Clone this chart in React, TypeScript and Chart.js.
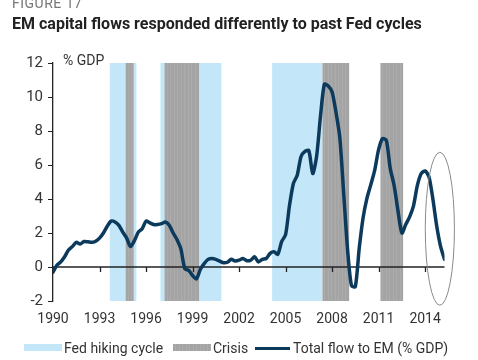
import React, { useEffect, useRef } from "react";
import { Chart, registerables } from "chart.js";

Chart.register(...registerables);

// Total flow to EM (% GDP), quarterly from 1990 Q1
const flowValues = [
  -0.3, 0.1, 0.3, 0.6,
  1.0, 1.2, 1.45, 1.35,
  1.5, 1.48, 1.45, 1.52,
  1.7, 2.0, 2.4, 2.7,
  2.65, 2.45, 2.05, 1.7,
  1.2, 1.55, 2.05, 2.25,
  2.7, 2.6, 2.5, 2.5,
  2.55, 2.65, 2.45, 2.0,
  1.6, 1.05, -0.1, -0.2,
  -0.5, -0.7, -0.15, 0.2,
  0.45, 0.5, 0.45, 0.35,
  0.25, 0.28, 0.45, 0.35,
  0.4, 0.5, 0.37, 0.4,
  0.6, 0.3, 0.45, 0.5,
  0.8, 0.9, 0.75, 1.5,
  1.9, 3.6, 4.9, 5.4,
  6.5, 6.8, 6.85, 5.5,
  6.5, 8.85, 10.75, 10.65,
  10.3, 9.1, 7.6, 4.3,
  1.0, -1.1, -1.15, 1.1,
  2.9, 4.05, 4.85, 5.7,
  6.9, 7.55, 7.45, 5.8,
  4.8, 3.3, 2.0, 2.5,
  2.95, 3.6, 4.8, 5.5,
  5.65, 5.3, 4.0, 2.4,
  1.2, 0.45,
];
const startYear = 1990;
const quarterDates = flowValues.map((_, i) => startYear + i * 0.25);

const xTickYears = [1990, 1993, 1996, 1999, 2002, 2005, 2008, 2011, 2014];
const yTickValues = [-2, 0, 2, 4, 6, 8, 10, 12];

// shaded periods (decimal years)
const fedHikingCycles: [number, number][] = [
  [1993.66, 1995.38],
  [1996.93, 2000.86],
  [2004.13, 2007.38],
];
const crisisPeriods: [number, number][] = [
  [1994.69, 1995.2],
  [1997.2, 1999.42],
  [2007.38, 2009.1],
  [2011.12, 2012.58],
];

// highlight ellipse (centre year / value and half extents in data units)
const highlight = { year: 2014.95, value: 2.25, halfYears: 0.94, halfValue: 4.5 };

const BLUE = "#c3e7f8";
const GRAY = "#a4a4a4";
const GRAY_STRIPE = "#acacac";
const LINE = "#0c3a5c";
const FONT = "Roboto";

const overlayPlugin = {
  id: "overlay",
  beforeDatasetsDraw(chart: any) {
    const { ctx, chartArea, scales } = chart;
    const x = scales.x;
    const y = scales.y;
    ctx.save();
    const top = chartArea.top;
    const h = chartArea.bottom - chartArea.top;
    for (const [a, b] of fedHikingCycles) {
      const x0 = x.getPixelForValue(a);
      const x1 = x.getPixelForValue(b);
      ctx.fillStyle = BLUE;
      ctx.fillRect(x0, top, x1 - x0, h);
    }
    for (const [a, b] of crisisPeriods) {
      const x0 = x.getPixelForValue(a);
      const x1 = x.getPixelForValue(b);
      ctx.fillStyle = GRAY;
      ctx.fillRect(x0, top, x1 - x0, h);
      ctx.strokeStyle = GRAY_STRIPE;
      ctx.lineWidth = 1;
      for (let px = x0 + 2; px < x1 - 1; px += 3.5) {
        ctx.beginPath();
        ctx.moveTo(Math.round(px) + 0.5, top);
        ctx.lineTo(Math.round(px) + 0.5, top + h);
        ctx.stroke();
      }
    }
    // zero line with downward ticks
    const y0 = y.getPixelForValue(0);
    ctx.strokeStyle = "#222";
    ctx.lineWidth = 1.3;
    ctx.beginPath();
    ctx.moveTo(chartArea.left, y0);
    ctx.lineTo(chartArea.right, y0);
    ctx.stroke();
    for (const t of xTickYears) {
      const px = Math.round(x.getPixelForValue(t)) + 0.5;
      ctx.beginPath();
      ctx.moveTo(px, y0);
      ctx.lineTo(px, y0 + 5);
      ctx.stroke();
    }
    ctx.restore();
  },
  afterDraw(chart: any) {
    const { ctx, scales } = chart;
    const x = scales.x;
    const y = scales.y;
    const cx = x.getPixelForValue(highlight.year);
    const cy = y.getPixelForValue(highlight.value);
    const rx = x.getPixelForValue(highlight.year + highlight.halfYears) - cx;
    const ry = cy - y.getPixelForValue(highlight.value + highlight.halfValue);
    ctx.save();
    ctx.strokeStyle = "#8a8a8a";
    ctx.lineWidth = 1;
    ctx.beginPath();
    ctx.ellipse(cx, cy, rx, ry, 0, 0, Math.PI * 2);
    ctx.stroke();
    ctx.restore();
  },
};

export default function App() {
  const canvasRef = useRef<HTMLCanvasElement | null>(null);

  useEffect(() => {
    if (!canvasRef.current) return;
    const chart = new Chart(canvasRef.current, {
      type: "line",
      data: {
        datasets: [
          {
            label: "Total flow to EM (% GDP)",
            data: quarterDates.map((d, i) => ({ x: d, y: flowValues[i] })),
            borderColor: LINE,
            borderWidth: 3.5,
            pointRadius: 0,
            tension: 0.25,
            borderCapStyle: "round",
            borderJoinStyle: "round",
            fill: false,
          },
        ],
      },
      options: {
        animation: false,
        responsive: false,
        devicePixelRatio: 1,
        layout: { padding: { top: 63, right: 33.5, bottom: 0, left: 0 } },
        plugins: {
          legend: { display: false },
          tooltip: { enabled: false },
          title: { display: false },
        },
        scales: {
          x: {
            type: "linear",
            min: 1990,
            max: 2015.25,
            grid: { display: false, drawTicks: false },
            border: { display: false },
            afterBuildTicks: (scale: any) => {
              scale.ticks = xTickYears.map((v) => ({ value: v }));
            },
            afterFit: (scale: any) => {
              scale.height = 59;
            },
            ticks: {
              padding: 10,
              color: "#333",
              font: { family: FONT, size: 14 },
              maxRotation: 0,
              autoSkip: false,
              callback: (v: any) => String(v),
            },
          },
          y: {
            min: -2,
            max: 12,
            grid: {
              display: true,
              drawOnChartArea: false,
              drawTicks: true,
              tickLength: 5,
              color: "#222",
            },
            border: { display: true, color: "#222", width: 1.3 },
            afterBuildTicks: (scale: any) => {
              scale.ticks = yTickValues.map((v) => ({ value: v }));
            },
            afterFit: (scale: any) => {
              scale.width = 53;
            },
            ticks: {
              padding: 5,
              color: "#333",
              font: { family: FONT, size: 15 },
            },
          },
        },
      },
      plugins: [overlayPlugin],
    } as any);
    return () => chart.destroy();
  }, []);

  const legendText: React.CSSProperties = {
    position: "absolute",
    top: 339,
    lineHeight: "18px",
    fontFamily: FONT,
    fontSize: 14,
    color: "#333",
    whiteSpace: "nowrap",
  };

  return (
    <div style={{ position: "absolute", left: 0, top: 0, width: 478, height: 360, overflow: "hidden", background: "#fff" }}>
      <canvas ref={canvasRef} width={478} height={360} style={{ position: "absolute", left: 0, top: 0, width: 478, height: 360 }} />
      <div style={{ position: "absolute", left: 12, top: -7.5, lineHeight: "20px", fontFamily: FONT, fontSize: 14, color: "#777", letterSpacing: 0.5, whiteSpace: "nowrap" }}>
        FIGURE 17
      </div>
      <div style={{ position: "absolute", left: 12, top: 14, lineHeight: "20px", fontFamily: FONT, fontSize: 16, fontWeight: 700, color: "#222", whiteSpace: "nowrap" }}>
        EM capital flows responded differently to past Fed cycles
      </div>
      <div style={{ position: "absolute", left: 63, top: 51, lineHeight: "18px", fontFamily: FONT, fontSize: 14, color: "#333", whiteSpace: "nowrap" }}>
        % GDP
      </div>
      <div style={{ position: "absolute", left: 24, top: 344, width: 38, height: 7, background: BLUE }} />
      <div style={{ ...legendText, left: 64 }}>Fed hiking cycle</div>
      <div
        style={{
          position: "absolute",
          left: 173,
          top: 344,
          width: 38,
          height: 7,
          background: `repeating-linear-gradient(90deg, ${GRAY} 0px, ${GRAY} 2.5px, ${GRAY_STRIPE} 2.5px, ${GRAY_STRIPE} 3.5px)`,
        }}
      />
      <div style={{ ...legendText, left: 213 }}>Crisis</div>
      <div style={{ position: "absolute", left: 255, top: 346.5, width: 35, height: 3, background: LINE }} />
      <div style={{ ...legendText, left: 293 }}>Total flow to EM (% GDP)</div>
    </div>
  );
}
